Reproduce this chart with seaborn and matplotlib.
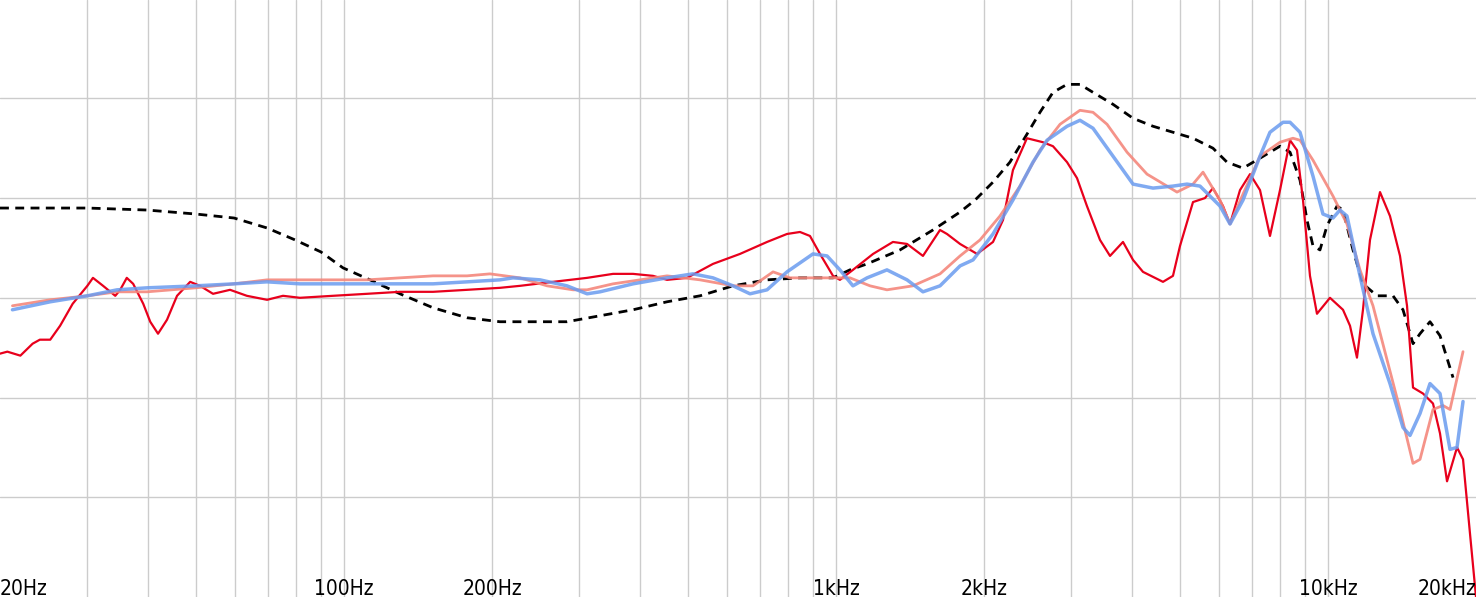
import numpy as np
import pandas as pd
import seaborn as sns
import matplotlib.pyplot as plt

# target curve (black dashed)
target_hz = [20, 30.1, 39.8, 50.0, 59.8, 69.8, 79.6, 89.8, 99.6, 113.0, 130.0, 151.8, 177.9,
             207.6, 250.4, 284.1, 331.6, 387.0, 453.7, 529.5, 617.9, 724.6, 845.3, 986.6,
             1068, 1157, 1350, 1575, 1788, 1918, 2086, 2258, 2445, 2599, 2762, 2950, 3134,
             3331, 3658, 4017, 4411, 4843, 5319, 5840, 6236, 6722, 7278, 7992, 8376, 8776,
             9068, 9326, 9636, 9956, 10436, 10732, 11246, 11784, 12584, 13562, 14212, 14894,
             15390, 16126, 16900, 17962]
target_db = [74.5, 74.5, 74.4, 74.2, 74.0, 73.5, 72.9, 72.3, 71.5, 70.9, 70.2, 69.5, 69.0,
             68.8, 68.8, 68.8, 69.1, 69.4, 69.8, 70.1, 70.6, 70.9, 71.0, 71.0,
             71.4, 71.7, 72.4, 73.4, 74.3, 74.9, 75.8, 76.8, 78.2, 79.3, 80.3, 80.7, 80.7,
             80.3, 79.7, 79.0, 78.6, 78.3, 78.0, 77.5, 76.8, 76.5, 77.0, 77.6, 77.3, 75.9,
             73.9, 72.6, 72.4, 73.6, 74.6, 74.4, 72.4, 70.7, 70.1, 70.1, 69.4, 67.7,
             68.2, 68.8, 68.1, 66.0]

# light red measurement
salmon_hz = [21.2, 25.3, 30.1, 34.6, 39.8, 50.0, 59.8, 69.8, 81.4, 95.0, 111.4, 130.0, 151.8,
             177.9, 198.1, 228.0, 258.8, 292.2, 312.1, 352.4, 399.9, 453.7, 529.5, 617.9,
             678.5, 745.2, 806.7, 928.3, 1068, 1173, 1270, 1434, 1628, 1788, 1963, 2155,
             2367, 2599, 2855, 3134, 3331, 3557, 3906, 4289, 4710, 4935, 5319, 5574, 6035,
             6325, 6722, 7278, 7992, 8492, 8776, 9326, 10242, 10934, 11620, 12350, 13186,
             14014, 14894, 15390, 16354, 17138, 17710, 18822]
salmon_db = [69.6, 69.9, 70.1, 70.3, 70.3, 70.5, 70.7, 70.9, 70.9, 70.9, 70.9, 71.0, 71.1,
             71.1, 71.2, 71.0, 70.6, 70.4, 70.4, 70.7, 70.9, 71.1, 70.9, 70.6,
             70.6, 71.3, 71.0, 71.0, 71.0, 70.6, 70.4, 70.6, 71.2, 72.1, 72.9, 74.1,
             75.6, 77.4, 78.7, 79.4, 79.3, 78.7, 77.3, 76.2, 75.6, 75.3, 75.7, 76.3, 74.9,
             73.7, 75.2, 77.1, 77.8, 78.0, 77.9, 76.9, 75.1, 73.7, 71.4, 69.6, 66.9,
             64.4, 61.7, 61.9, 64.4, 64.6, 64.4, 67.3]

# blue measurement
blue_hz = [21.2, 25.3, 30.1, 34.6, 39.8, 50.0, 59.8, 69.8, 81.4, 111.4, 130.0, 151.8, 177.9,
           207.6, 220.7, 250.4, 284.1, 312.1, 331.6, 387.0, 453.7, 512.4, 562.6, 617.9,
           669.0, 724.6, 795.5, 898.3, 959.3, 1019, 1083, 1157, 1270, 1395, 1503, 1628,
           1788, 1900, 2086, 2290, 2515, 2686, 2950, 3134, 3331, 3658, 4017, 4411, 4843,
           5172, 5496, 6035, 6325, 6722, 7278, 7626, 8106, 8376, 8776, 9326, 9772, 10242,
           10582, 10934, 11620, 12350, 13372, 14212, 14686, 15390, 16126, 16900, 17710,
           18300, 18822]
blue_db = [69.4, 69.8, 70.1, 70.4, 70.5, 70.6, 70.7, 70.8, 70.7, 70.7, 70.7, 70.7, 70.8,
           70.9, 71.0, 70.9, 70.6, 70.2, 70.3, 70.7, 71.0, 71.2, 71.0, 70.6,
           70.2, 70.4, 71.3, 72.2, 72.1, 71.4, 70.6, 71.0, 71.4, 70.9, 70.3, 70.6,
           71.6, 71.9, 73.2, 74.9, 76.8, 77.9, 78.6, 78.9, 78.5, 77.1, 75.7, 75.5, 75.6,
           75.7, 75.6, 74.6, 73.7, 74.9, 77.1, 78.3, 78.8, 78.8, 78.3, 76.1, 74.2, 74.0,
           74.4, 74.1, 71.1, 68.2, 65.7, 63.5, 63.1, 64.2, 65.7, 65.2, 62.4,
           62.5, 64.8]

# red measurement
red_hz = [20, 20.7, 22.0, 23.3, 24.1, 25.3, 26.5, 28.1, 30.1, 30.9, 32.4, 34.3, 35.1, 36.2,
          37.3, 39.1, 40.4, 41.9, 43.7, 45.8, 48.7, 51.0, 54.2, 58.7, 63.5, 69.8, 75.2,
          81.4, 95.0, 111.4, 130.0, 151.8, 177.9, 207.6, 228.0, 266.1, 312.1, 352.4, 387.0,
          425.0, 453.7, 498.2, 562.6, 638.4, 724.6, 795.5, 845.3, 885.8, 928.3, 986.6, 1019,
          1083, 1190, 1306, 1395, 1503, 1628, 1682, 1788, 1936, 2086, 2186, 2290, 2445,
          2635, 2762, 2950, 3091, 3238, 3442, 3607, 3833, 4017, 4209, 4622, 4843, 5005,
          5319, 5626, 5840, 6121, 6325, 6628, 6946, 7278, 7626, 7992, 8376, 8654, 8900,
          9196, 9502, 10098, 10732, 11090, 11458, 11784, 12178, 12762, 13372, 14014, 14482,
          14894, 15608, 16354, 16900, 17464, 18300, 18822, 19442, 20000]
red_db = [67.2, 67.3, 67.1, 67.7, 67.9, 67.9, 68.6, 69.7, 70.6, 71.0, 70.6, 70.1, 70.4, 71.0,
          70.7, 69.7, 68.8, 68.2, 68.9, 70.1, 70.8, 70.6, 70.2, 70.4, 70.1, 69.9, 70.1,
          70.0, 70.1, 70.2, 70.3, 70.3, 70.4, 70.5, 70.6, 70.8, 71.0, 71.2, 71.2,
          71.1, 70.9, 71.0, 71.7, 72.2, 72.8, 73.2, 73.3, 73.1, 72.2, 71.1, 70.9,
          71.4, 72.2, 72.8, 72.7, 72.1, 73.4, 73.2, 72.7, 72.2, 72.8, 73.9, 76.4, 78.0,
          77.8, 77.6, 76.8, 76.0, 74.6, 72.9, 72.1, 72.8, 71.9, 71.3, 70.8, 71.1, 72.6,
          74.8, 75.0, 75.5, 74.6, 73.7, 75.4, 76.2, 75.4, 73.1, 75.4, 77.9, 77.4, 74.9,
          71.1, 69.2, 70.0, 69.4, 68.6, 67.0, 69.4, 72.9, 75.3, 74.1, 72.1, 69.6,
          65.5, 65.2, 64.7, 63.2, 60.8, 62.5, 61.9, 58.2, 55.0]

grid_hz = ([30, 40, 50, 60, 70, 80, 90, 100, 200, 300, 400, 500, 600, 700, 800, 900,
            1000, 2000, 3000, 4000, 5000, 6000, 7000, 8000, 9000, 10000])
label_hz = [20, 100, 200, 1000, 2000, 10000, 20000]
label_txt = ["20Hz", "100Hz", "200Hz", "1kHz", "2kHz", "10kHz", "20kHz"]

sns.set_theme(style="white")
plt.rcParams["font.family"] = ["DejaVu Sans"]

fig = plt.figure(figsize=(14.76, 5.97), dpi=100)
ax = fig.add_axes([0, 0, 1, 1])

sns.lineplot(x=target_hz, y=target_db, ax=ax, color="black", lw=2.0,
             dashes=False, sort=False, zorder=3).lines[-1].set_dashes((3.2, 2.3))
sns.lineplot(x=red_hz, y=red_db, ax=ax, color="#e8001c", lw=1.6, sort=False, zorder=4)
sns.lineplot(x=salmon_hz, y=salmon_db, ax=ax, color="#f4877c", lw=2.0, alpha=0.9,
             sort=False, zorder=5)
sns.lineplot(x=blue_hz, y=blue_db, ax=ax, color="#6a9bef", lw=2.5, alpha=0.85,
             sort=False, zorder=6)

ax.set_xscale("log")
ax.set_xlim(20, 20000)
ax.set_ylim(55.0, 84.93)
ax.set_xticks(grid_hz)
ax.set_xticks([], minor=True)
ax.set_yticks(np.arange(60, 85, 5))
ax.set_xticklabels([])
ax.set_yticklabels([])
ax.tick_params(length=0)
ax.grid(True, color="#cccccc", lw=1.0, zorder=0)
for s in ax.spines.values():
    s.set_visible(False)

for hz, txt in zip(label_hz, label_txt):
    ha = "left" if hz == label_hz[0] else ("right" if hz == label_hz[-1] else "center")
    ax.text(hz, 0.004, txt, transform=ax.get_xaxis_transform(), ha=ha, va="baseline",
            fontsize=15, fontstretch="condensed", color="black", zorder=7)

fig.savefig("out.png", dpi=100)
